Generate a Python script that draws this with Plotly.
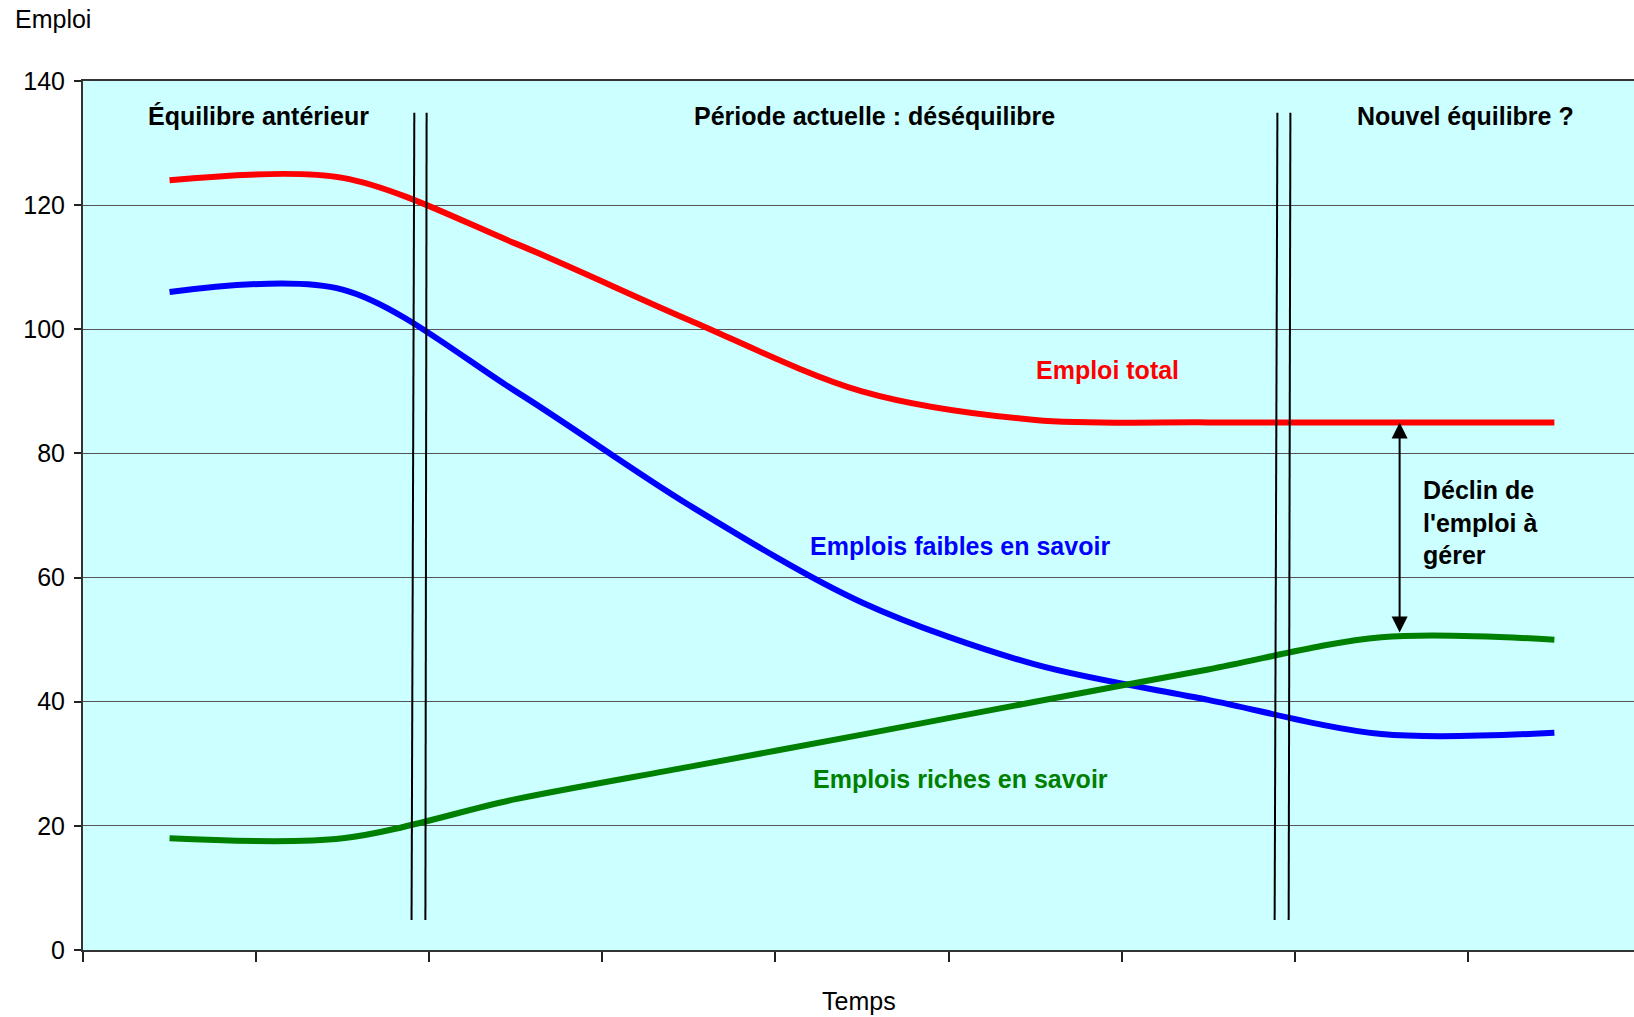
import plotly.graph_objects as go

# ---- data ----
periods = [0, 1, 2, 3, 4, 5, 6, 7, 8]
emploi_total = [124, 124.4, 113.8, 101.5, 90, 85.4, 85, 85, 85]
emplois_faibles = [106, 106.4, 90, 71.7, 56, 46, 40.3, 34.8, 35]
emplois_riches = [18, 18, 24.3, 29.5, 34.7, 40, 45.2, 50.4, 50]
y_ticks = [0, 20, 40, 60, 80, 100, 120, 140]
x_boundaries = [-0.5, 0.5, 1.5, 2.5, 3.5, 4.5, 5.5, 6.5, 7.5]

FONT = "Liberation Sans, Arial, sans-serif"
FS = 25

fig = go.Figure()
for vals, col in [(emploi_total, "#FF0000"), (emplois_faibles, "#0000FF"), (emplois_riches, "#008000")]:
    fig.add_trace(go.Scatter(x=periods, y=vals, mode="lines",
                             line=dict(color=col, width=6, shape="spline", smoothing=0.9),
                             showlegend=False, hoverinfo="skip"))

# double vertical separators
for (xb, xt) in [(1.398, 1.414), (1.478, 1.485), (6.384, 6.400), (6.465, 6.475)]:
    fig.add_shape(type="line", xref="x", yref="y", x0=xb, y0=4.83, x1=xt, y1=134.9,
                  line=dict(color="black", width=2))

annots = [
    dict(text="<b>Équilibre antérieur</b>", x=0.515, y=134.4, color="black"),
    dict(text="<b>Période actuelle : déséquilibre</b>", x=4.072, y=134.4, color="black"),
    dict(text="<b>Nouvel équilibre ?</b>", x=7.487, y=134.4, color="black"),
    dict(text="<b>Emploi total</b>", x=5.42, y=93.4, color="#FF0000"),
    dict(text="<b>Emplois faibles en savoir</b>", x=4.569, y=65.1, color="#0000FF"),
    dict(text="<b>Emplois riches en savoir</b>", x=4.572, y=27.6, color="#008000"),
]
for a in annots:
    fig.add_annotation(x=a["x"], y=a["y"], xref="x", yref="y", text=a["text"], showarrow=False,
                       xanchor="center", yanchor="middle",
                       font=dict(family=FONT, size=FS, color=a["color"]))

fig.add_annotation(x=7.232, y=68.8, xref="x", yref="y",
                   text="<b>Déclin de<br>l'emploi à<br>gérer</b>", showarrow=False,
                   xanchor="left", yanchor="middle", align="left",
                   font=dict(family=FONT, size=FS, color="black"))

# double-headed arrow
fig.add_annotation(x=7.106, y=85.0, ax=7.106, ay=50.9, xref="x", yref="y", axref="x", ayref="y",
                   text="", showarrow=True, arrowhead=2, startarrowhead=2, arrowside="end+start",
                   arrowwidth=2, arrowsize=1.6, startarrowsize=1.6, arrowcolor="black",
                   standoff=0, startstandoff=0)

# axis titles
fig.add_annotation(x=(13 - 83) / 1551, y=(950 - 19) / 869, xref="paper", yref="paper",
                   text="Emploi", showarrow=False, xanchor="left", yanchor="middle",
                   font=dict(family=FONT, size=FS, color="black"))
fig.add_annotation(x=0.5, y=(950 - 1001) / 869, xref="paper", yref="paper",
                   text="Temps", showarrow=False, xanchor="center", yanchor="middle",
                   font=dict(family=FONT, size=FS, color="black"))

fig.update_layout(
    width=1634, height=1017,
    margin=dict(l=83, r=0, t=81, b=67),
    paper_bgcolor="white", plot_bgcolor="#CCFFFF",
    font=dict(family=FONT, size=FS, color="black"),
    xaxis=dict(range=[-0.5, 8.46], tickmode="array", tickvals=x_boundaries, showticklabels=False,
               ticks="outside", ticklen=10, tickwidth=1.5, tickcolor="#222",
               showgrid=False, zeroline=False, showline=True, linecolor="#333", linewidth=2,
               mirror=True),
    yaxis=dict(range=[0, 140], tickmode="array", tickvals=y_ticks, ticktext=[str(v) for v in y_ticks],
               ticks="outside", ticklen=7, tickwidth=1.5, tickcolor="#222",
               showgrid=True, gridcolor="#555555", gridwidth=1, zeroline=False,
               showline=True, linecolor="#333", linewidth=2,
               tickfont=dict(family=FONT, size=FS, color="black"), ticklabelstandoff=4),
)

fig.write_html("out.html", config={"displayModeBar": False},
               post_script="document.body.style.margin='0px';document.body.style.overflow='hidden';")
